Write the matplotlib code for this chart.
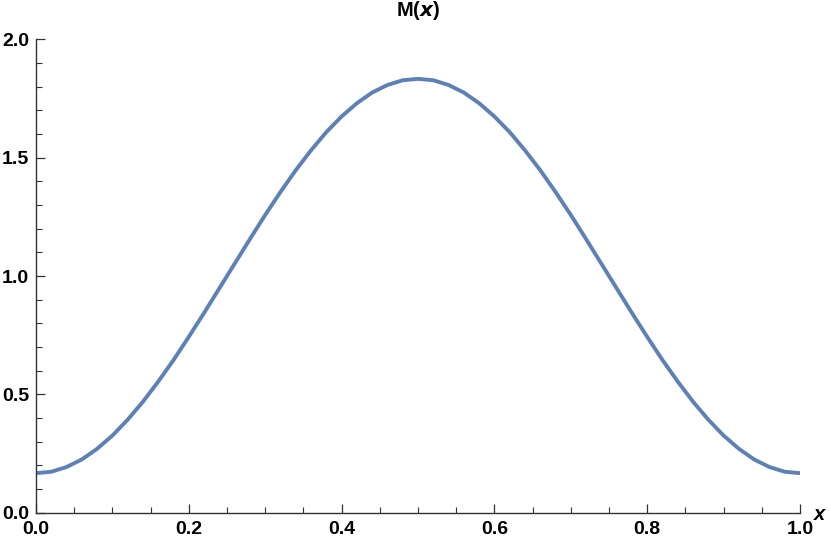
import numpy as np
import matplotlib.pyplot as plt
from matplotlib.ticker import MultipleLocator

plt.rcParams['font.family'] = ['Liberation Sans', 'DejaVu Sans']

# values
x_vals = [0.00, 0.02, 0.04, 0.06, 0.08, 0.10, 0.12, 0.14, 0.16, 0.18,
          0.20, 0.22, 0.24, 0.26, 0.28, 0.30, 0.32, 0.34, 0.36, 0.38,
          0.40, 0.42, 0.44, 0.46, 0.48, 0.50, 0.52, 0.54, 0.56, 0.58,
          0.60, 0.62, 0.64, 0.66, 0.68, 0.70, 0.72, 0.74, 0.76, 0.78,
          0.80, 0.82, 0.84, 0.86, 0.88, 0.90, 0.92, 0.94, 0.96, 0.98, 1.00]
m_vals = [0.167, 0.173, 0.193, 0.225, 0.270, 0.326, 0.393, 0.469, 0.554, 0.645,
          0.743, 0.844, 0.948, 1.052, 1.156, 1.258, 1.355, 1.447, 1.531, 1.608,
          1.674, 1.730, 1.775, 1.807, 1.827, 1.833, 1.827, 1.807, 1.775, 1.730,
          1.674, 1.608, 1.531, 1.447, 1.355, 1.258, 1.156, 1.052, 0.948, 0.844,
          0.743, 0.645, 0.554, 0.469, 0.393, 0.326, 0.270, 0.225, 0.193, 0.173, 0.167]

fig = plt.figure(figsize=(8.3, 5.45), dpi=100)
ax = fig.add_axes([36 / 830, 1 - 512.7 / 545, 764 / 830, (512.7 - 39.3) / 545])

ax.plot(x_vals, m_vals, color='#5e81b5', linewidth=2.8,
        solid_capstyle='butt', solid_joinstyle='round')

ax.set_xlim(0, 1)
ax.set_ylim(0, 2)
ax.spines['top'].set_visible(False)
ax.spines['right'].set_visible(False)
for s in ['left', 'bottom']:
    ax.spines[s].set_linewidth(1.0)
    ax.spines[s].set_color('#333333')

ax.xaxis.set_major_locator(MultipleLocator(0.2))
ax.xaxis.set_minor_locator(MultipleLocator(0.05))
ax.yaxis.set_major_locator(MultipleLocator(0.5))
ax.yaxis.set_minor_locator(MultipleLocator(0.1))
ax.set_xticklabels([f'{v:.1f}' for v in ax.get_xticks()])
ax.set_yticklabels([f'{v:.1f}' for v in ax.get_yticks()])

ax.tick_params(which='major', direction='in', length=6.5, width=0.9,
               color='#333333', labelsize=14)
ax.tick_params(which='minor', direction='in', length=4, width=0.8, color='#333333')
ax.tick_params(axis='y', pad=5)
ax.tick_params(axis='x', pad=6)
for lab in ax.get_xticklabels() + ax.get_yticklabels():
    lab.set_fontweight('bold')

ax.set_title(r'M($\boldsymbol{x}$)', fontsize=14.5, fontweight='bold', pad=17)
fig.text(814 / 830, 1 - 514 / 545, 'x', fontsize=14.5, fontweight='bold',
         fontstyle='italic', ha='left', va='center')

fig.savefig('out.png', dpi=100)
